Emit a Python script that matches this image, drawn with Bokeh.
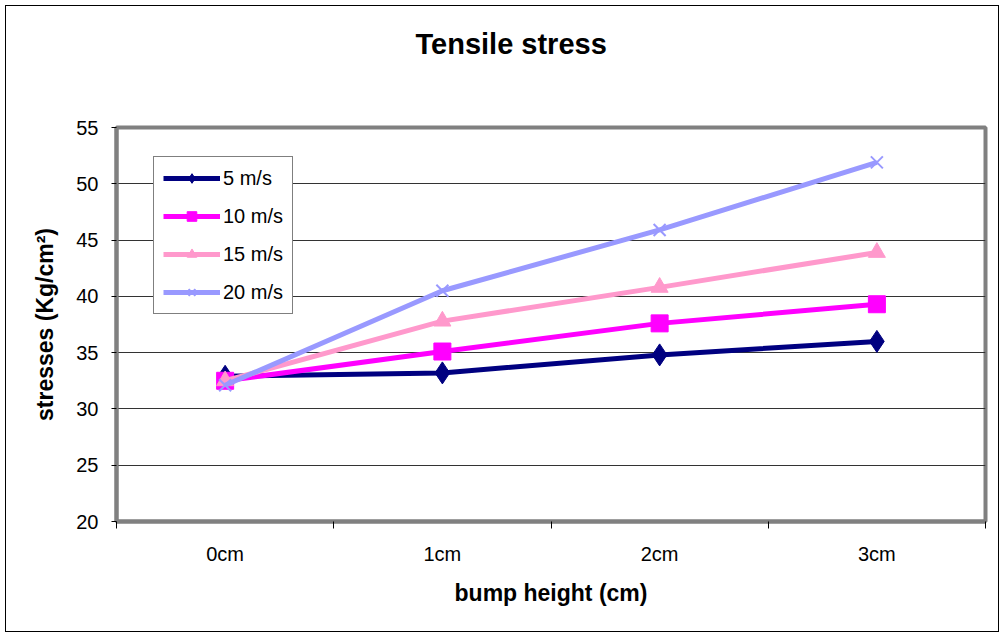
from bokeh.plotting import figure
from bokeh.models import FixedTicker, Range1d, Legend, LegendItem, Title
from bokeh.embed import file_html
from bokeh.resources import INLINE

categories = ["0cm", "1cm", "2cm", "3cm"]
s5 = [32.9, 33.2, 34.8, 36.0]
s10 = [32.5, 35.1, 37.6, 39.3]
s15 = [32.5, 37.8, 40.8, 43.9]
s20 = [32.1, 40.5, 45.9, 51.9]
series_names = ["5 m/s", "10 m/s", "15 m/s", "20 m/s"]
y_ticks = [20, 25, 30, 35, 40, 45, 50, 55]
title_text = "Tensile stress"

FONT = "Liberation Sans"
xs = [i + 0.5 for i in range(len(categories))]
bounds = [i for i in range(len(categories) + 1)]

p = figure(width=994, height=627, output_backend="svg", toolbar_location=None,
           x_range=Range1d(0, len(categories)), y_range=Range1d(20, 55),
           min_border_left=110, min_border_top=121, min_border_right=15,
           min_border_bottom=112)
p.margin = (5, 0, 0, 5)
p.styles = {"border": "1px solid black"}

# spacer panel between frame and title, then the title itself
spacer = Title(text=" ", text_font_size="10px", standoff=50)
p.add_layout(spacer, "above")
main_title = Title(text=title_text, align="left", text_font=FONT,
                   text_font_size="29px", text_font_style="bold",
                   text_color="black", standoff=10, offset=299)
p.add_layout(main_title, "above")

p.outline_line_color = "#808080"
p.outline_line_width = 4
p.background_fill_color = "white"
p.border_fill_color = "white"

# x axis
p.xaxis.ticker = FixedTicker(ticks=xs, minor_ticks=bounds)
p.xaxis.major_label_overrides = {x: c for x, c in zip(xs, categories)}
p.xaxis.major_tick_in = 0
p.xaxis.major_tick_out = 0
p.xaxis.minor_tick_in = 0
p.xaxis.minor_tick_out = 7
p.xaxis.minor_tick_line_color = "black"
p.xaxis.axis_line_color = "#808080"
p.xaxis.axis_line_width = 4
p.xaxis.major_label_standoff = 14
p.xaxis.major_label_text_font = FONT
p.xaxis.major_label_text_font_size = "20px"
p.xaxis.major_label_text_color = "black"
p.xaxis.axis_label = "bump height (cm)"
p.xaxis.axis_label_text_font = FONT
p.xaxis.axis_label_text_font_size = "23px"
p.xaxis.axis_label_text_font_style = "bold"
p.xaxis.axis_label_text_color = "black"
p.xaxis.axis_label_standoff = 12
p.xgrid.grid_line_color = None

# y axis
p.yaxis.ticker = FixedTicker(ticks=y_ticks)
p.yaxis.major_tick_in = 0
p.yaxis.major_tick_out = 5
p.yaxis.major_tick_line_color = "black"
p.yaxis.minor_tick_line_color = None
p.yaxis.axis_line_color = "#808080"
p.yaxis.axis_line_width = 4
p.yaxis.major_label_standoff = 13
p.yaxis.major_label_text_font = FONT
p.yaxis.major_label_text_font_size = "20px"
p.yaxis.major_label_text_color = "black"
p.yaxis.axis_label = "stresses (Kg/cm\u00b2)"
p.yaxis.axis_label_text_font = FONT
p.yaxis.axis_label_text_font_size = "23px"
p.yaxis.axis_label_text_font_style = "bold"
p.yaxis.axis_label_text_color = "black"
p.yaxis.axis_label_standoff = 15
p.ygrid.grid_line_color = "#333333"
p.ygrid.grid_line_width = 1

colors = ["#000080", "#FF00FF", "#FF99CC", "#9999FF"]
markers = ["diamond", "square", "triangle", "x"]
data = [s5, s10, s15, s20]

items = []
for name, ys, col, mk in zip(series_names, data, colors, markers):
    ln = p.line(xs, ys, line_color=col, line_width=5)
    if mk == "x":
        sc = p.scatter(xs, ys, marker=mk, size=17, line_color=col, line_width=2)
    elif mk == "diamond":
        sc = p.scatter(xs, ys, marker=mk, size=22, fill_color=col, line_color=col)
    else:
        sc = p.scatter(xs, ys, marker=mk, size=17, fill_color=col, line_color=col)
    items.append(LegendItem(label=name, renderers=[ln, sc]))

legend = Legend(items=items, location=(37, 207))
legend.glyph_width = 57
legend.glyph_height = 24
legend.label_height = 24
legend.spacing = 14
legend.padding = 9
legend.margin = 0
legend.label_standoff = 3
legend.label_text_font = FONT
legend.label_text_font_size = "20px"
legend.label_text_color = "black"
legend.border_line_color = "black"
legend.border_line_width = 1
legend.background_fill_color = "white"
legend.background_fill_alpha = 1
p.add_layout(legend, "center")

open("out.html", "w").write(file_html(p, INLINE))
